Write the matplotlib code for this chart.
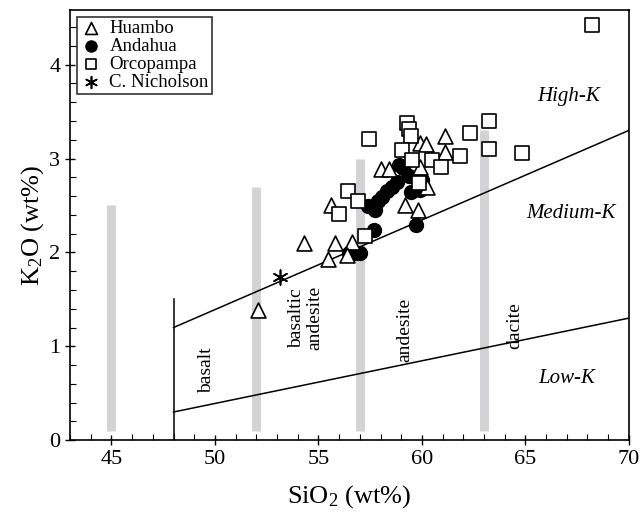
import numpy as np
import matplotlib.pyplot as plt
from matplotlib.ticker import MultipleLocator

plt.rcParams['font.family'] = ['Liberation Serif', 'DejaVu Serif']
plt.rcParams['mathtext.fontset'] = 'custom'
plt.rcParams['mathtext.rm'] = 'Liberation Serif'
plt.rcParams['mathtext.it'] = 'Liberation Serif:italic'

# SiO2 / K2O (wt%) per volcanic group
huambo_si = [61.1, 59.9, 60.2, 61.1, 58.0, 58.4, 59.9, 60.25, 55.6, 59.2, 59.8,
             54.3, 55.8, 56.6, 55.45, 56.4, 52.1]
huambo_k = [3.24, 3.17, 3.16, 3.07, 2.89, 2.89, 2.91, 2.70, 2.50, 2.51, 2.45,
            2.10, 2.10, 2.11, 1.93, 1.97, 1.39]

andahua_si = [58.9, 59.1, 59.4, 60.0, 58.8, 58.55, 58.3, 59.45, 59.9, 58.05, 57.9,
              57.4, 57.75, 57.7, 59.7, 56.5, 56.75, 57.0]
andahua_k = [2.93, 2.90, 2.81, 2.77, 2.75, 2.70, 2.65, 2.64, 2.67, 2.59, 2.55,
             2.49, 2.45, 2.24, 2.29, 1.99, 1.99, 1.99]

orco_si = [57.45, 59.3, 59.4, 59.45, 59.05, 59.5, 60.5, 60.9, 61.85, 62.3, 63.25,
           63.25, 64.85, 59.85, 56.45, 56.9, 56.0, 57.25, 68.2]
orco_k = [3.21, 3.38, 3.32, 3.24, 3.09, 2.98, 2.98, 2.91, 3.03, 3.27, 3.40,
          3.10, 3.06, 2.74, 2.65, 2.55, 2.41, 2.18, 4.42]

nich_si = [53.15]
nich_k = [1.74]

# rock-name dividers (SiO2) and their top K2O
div_si = [45, 52, 57, 63]
div_top = [2.5, 2.7, 3.0, 3.3]

# series boundaries
high_med_si = [48, 70]
high_med_k = [1.2, 3.3]
med_low_si = [48, 70]
med_low_k = [0.3, 1.3]

fig = plt.figure(figsize=(6.43, 5.13), dpi=100)
ax = fig.add_axes([0.109, 0.142, 0.869, 0.838])

for x, top in zip(div_si, div_top):
    ax.plot([x, x], [0.1, top], color='#d3d3d5', lw=6.5, solid_capstyle='butt', zorder=1)

ax.plot(high_med_si, high_med_k, color='black', lw=1.1, zorder=2)
ax.plot(med_low_si, med_low_k, color='black', lw=1.1, zorder=2)
ax.plot([48, 48], [0, 1.5], color='black', lw=1.1, zorder=2)

ax.scatter(andahua_si, andahua_k, marker='o', s=100, facecolor='black',
           edgecolor='black', zorder=3, label='Andahua')
ax.scatter(huambo_si, huambo_k, marker='^', s=115, facecolor='white',
           edgecolor='black', linewidth=1.2, zorder=4, label='Huambo')
ax.scatter(orco_si, orco_k, marker='s', s=90, facecolor='white',
           edgecolor='black', linewidth=1.2, zorder=5, label='Orcopampa')
ax.scatter(nich_si, nich_k, marker=(6, 2, 0), s=110, color='black',
           linewidth=1.2, zorder=5, label='C. Nicholson')

ax.text(49.6, 0.75, 'basalt', rotation=90, ha='center', va='center', fontsize=14)
ax.text(54.4, 1.3, 'basaltic\nandesite', rotation=90, ha='center', va='center',
        fontsize=14, linespacing=1.1)
ax.text(59.2, 1.17, 'andesite', rotation=90, ha='center', va='center', fontsize=14)
ax.text(64.5, 1.22, 'dacite', rotation=90, ha='center', va='center', fontsize=14)

ax.text(67.1, 3.66, 'High-K', style='italic', ha='center', va='center', fontsize=15)
ax.text(67.2, 2.42, 'Medium-K', style='italic', ha='center', va='center', fontsize=15)
ax.text(67.0, 0.66, 'Low-K', style='italic', ha='center', va='center', fontsize=15)

ax.set_xlim(43, 70)
ax.set_ylim(0, 4.58)
ax.xaxis.set_major_locator(MultipleLocator(5))
ax.xaxis.set_minor_locator(MultipleLocator(1))
ax.yaxis.set_major_locator(MultipleLocator(1))
ax.yaxis.set_minor_locator(MultipleLocator(0.2))
ax.tick_params(which='major', direction='inout', length=7, width=1, labelsize=16)
ax.tick_params(which='minor', direction='in', length=4, width=0.8)
for sp in ax.spines.values():
    sp.set_linewidth(1.2)

ax.set_xlabel('SiO$_2$ (wt%)', fontsize=19, labelpad=10)
ax.set_ylabel('K$_2$O (wt%)', fontsize=19, labelpad=2)

handles, labels = ax.get_legend_handles_labels()
order = [1, 0, 2, 3]
leg = ax.legend([handles[i] for i in order], [labels[i] for i in order],
                loc='upper left', fontsize=13.5, frameon=True, fancybox=False,
                edgecolor='black', borderpad=0.15, handletextpad=0.4,
                handlelength=1.2, labelspacing=0.05, borderaxespad=0.35,
                markerscale=0.8)
leg.get_frame().set_linewidth(1.2)

fig.savefig('out.png', dpi=100)
